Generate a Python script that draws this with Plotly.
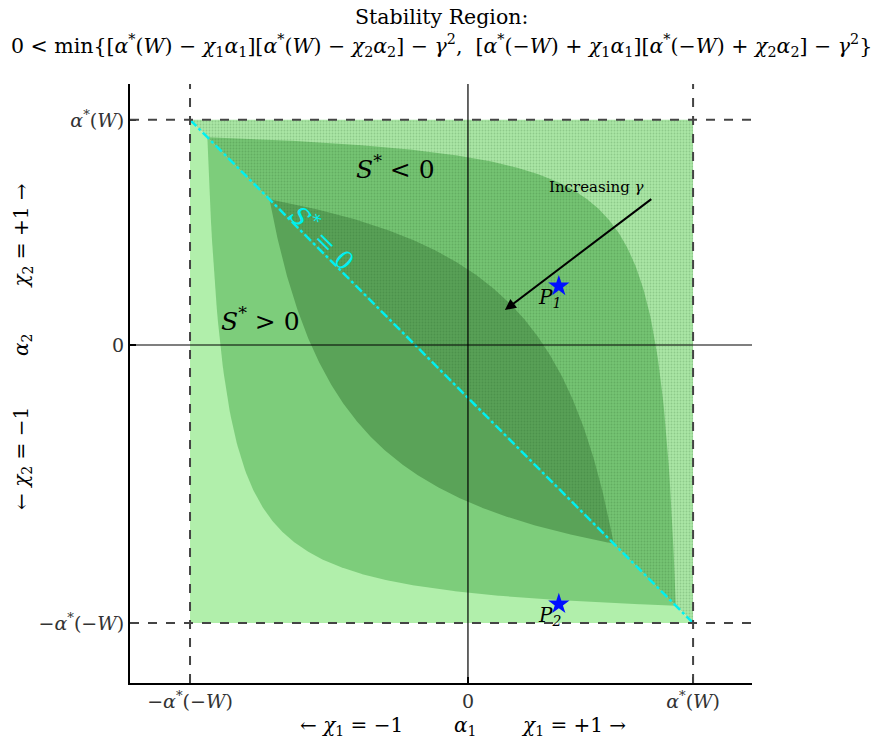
import numpy as np
import plotly.graph_objects as go

# ---- data ----
alpha_W = 0.81        # α*(W)
alpha_mW = 1.0        # α*(−W)
gamma_levels = [0.0, 0.33, 0.66]          # increasing γ
level_colors = ["#b1efab", "#7dcd7b", "#5aa358"]
level_colors_hatched = ["#aae6a5", "#74c372", "#58a056"]
point_x = [0.327, 0.327]
point_y = [0.212, -0.932]
point_names = ["P<sub>1</sub>", "P<sub>2</sub>"]
tick_vals_x = [-alpha_mW, 0.0, alpha_W]
tick_text_x = ["−<i>α</i><sup>*</sup>(−<i>W</i>)", "0", "<i>α</i><sup>*</sup>(<i>W</i>)"]
tick_vals_y = [-alpha_mW, 0.0, alpha_W]
tick_text_y = ["−<i>α</i><sup>*</sup>(−<i>W</i>)", "0", "<i>α</i><sup>*</sup>(<i>W</i>)"]
x_range = [-1.216, 1.022]
y_range = [-1.216, 0.939]
x_title_parts = ["← <i>χ</i><sub>1</sub> = −1", "<i>α</i><sub>1</sub>", "<i>χ</i><sub>1</sub> = +1 →"]
y_title_parts = ["← <i>χ</i><sub>2</sub> = −1", "<i>α</i><sub>2</sub>", "<i>χ</i><sub>2</sub> = +1 →"]
title_part_pos = [-0.42, -0.01, 0.38]

FONT = "DejaVu Serif"


def halves(A, B, g):
    """Return (upper, lower) polygons of the stable region for level g,
    split by the S*=0 diagonal x+y = A-B."""
    if g == 0:
        up = ([-B, A, A], [A, A, -B])
        lo = ([-B, -B, A], [A, -B, -B])
        return up, lo
    c = A - B
    disc = np.sqrt((A + B) ** 2 - 4 * g * g)
    xl, xr = (c - disc) / 2, (c + disc) / 2
    xs = np.linspace(xl, xr, 400)
    yu = A - g * g / (A - xs)
    yl = -B + g * g / (B + xs)
    return (list(xs), list(yu)), (list(xs), list(yl))


fig = go.Figure()
for g, col, hcol in zip(gamma_levels, level_colors, level_colors_hatched):
    up, lo = halves(alpha_W, alpha_mW, g)
    fig.add_trace(go.Scatter(x=lo[0], y=lo[1], fill="toself", fillcolor=col,
                             mode="lines", line=dict(width=0, color=col),
                             hoverinfo="skip", showlegend=False))
    fig.add_trace(go.Scatter(x=up[0], y=up[1], fill="toself", fillcolor=hcol,
                             fillpattern=dict(shape=".", bgcolor=hcol,
                                              fgcolor="rgba(30,90,30,0.40)",
                                              size=3, solidity=0.3),
                             mode="lines", line=dict(width=0, color=hcol),
                             hoverinfo="skip", showlegend=False))

# S* = 0 diagonal
fig.add_trace(go.Scatter(x=[-alpha_mW, alpha_W], y=[alpha_W, -alpha_mW],
                         mode="lines", line=dict(color="#00f0f0", width=2.5, dash="dashdot"),
                         hoverinfo="skip", showlegend=False))

# points
fig.add_trace(go.Scatter(x=point_x, y=point_y, mode="markers",
                         marker=dict(symbol="star", size=16, color="#0010ff",
                                     line=dict(width=0)),
                         hoverinfo="skip", showlegend=False))

shapes = []
dash_line = dict(color="#444444", width=2, dash="dash")
for v in (alpha_W, -alpha_mW):
    shapes.append(dict(type="line", xref="paper", x0=0, x1=1, yref="y", y0=v, y1=v,
                       line=dash_line, layer="above"))
    shapes.append(dict(type="line", yref="paper", y0=0, y1=1, xref="x", x0=v, x1=v,
                       line=dash_line, layer="above"))
shapes.append(dict(type="line", xref="paper", x0=0, x1=1, yref="y", y0=0, y1=0,
                   line=dict(color="black", width=1.2), layer="above"))
shapes.append(dict(type="line", yref="paper", y0=0, y1=1, xref="x", x0=0, x1=0,
                   line=dict(color="black", width=1.2), layer="above"))

ann = []
for px, py, name in zip(point_x, point_y, point_names):
    ann.append(dict(x=px, y=py, text="<i>" + name + "</i>", showarrow=False,
                    xanchor="right", yanchor="top", xshift=4, yshift=3,
                    font=dict(family=FONT, size=20, color="black")))
ann += [
    dict(x=-0.259, y=0.637, text="<i>S</i><sup>*</sup> < 0", showarrow=False,
         font=dict(family=FONT, size=25, color="black")),
    dict(x=-0.748, y=0.09, text="<i>S</i><sup>*</sup> > 0", showarrow=False,
         font=dict(family=FONT, size=25, color="black")),
    dict(x=-0.522, y=0.385, text="<i>S</i><sup>*</sup> = 0", showarrow=False, textangle=45,
         font=dict(family=FONT, size=25, color="#00f0f0")),
    dict(x=0.464, y=0.568, text="Increasing <i>γ</i>", showarrow=False,
         font=dict(family=FONT, size=15, color="black")),
    dict(x=0.133, y=0.126, ax=0.665, ay=0.529, axref="x", ayref="y", xref="x", yref="y",
         text="", showarrow=True, arrowhead=2, arrowsize=1.1, arrowwidth=2, arrowcolor="black"),
    # title
    dict(xref="paper", yref="paper", x=0.5, y=1, yshift=67, yanchor="middle",
         text="Stability Region:", showarrow=False,
         font=dict(family=FONT, size=20.5, color="black")),
    dict(xref="paper", yref="paper", x=0.5, y=1, yshift=39, yanchor="middle",
         text="0 < min{[<i>α</i><sup>*</sup>(<i>W</i>) − <i>χ</i><sub>1</sub><i>α</i><sub>1</sub>]"
              "[<i>α</i><sup>*</sup>(<i>W</i>) − <i>χ</i><sub>2</sub><i>α</i><sub>2</sub>] − <i>γ</i><sup>2</sup>,  "
              "[<i>α</i><sup>*</sup>(−<i>W</i>) + <i>χ</i><sub>1</sub><i>α</i><sub>1</sub>]"
              "[<i>α</i><sup>*</sup>(−<i>W</i>) + <i>χ</i><sub>2</sub><i>α</i><sub>2</sub>] − <i>γ</i><sup>2</sup>}",
         showarrow=False, font=dict(family=FONT, size=20.5, color="black")),
]
# axis titles (three pieces each)
for txt, pos in zip(x_title_parts, title_part_pos):
    ann.append(dict(xref="x", yref="paper", x=pos, y=0, yshift=-43, yanchor="middle",
                    text=txt, showarrow=False, font=dict(family=FONT, size=20, color="black")))
for txt, pos in zip(y_title_parts, title_part_pos):
    ann.append(dict(xref="paper", yref="y", x=0, xshift=-108, y=pos + 0.01, xanchor="center",
                    yanchor="middle", text=txt, textangle=-90, showarrow=False,
                    font=dict(family=FONT, size=20, color="black")))

axis_common = dict(showgrid=False, zeroline=False, showline=True, linecolor="black",
                   linewidth=2, ticks="inside", ticklen=6, tickwidth=1.5, tickcolor="black",
                   mirror=False, tickfont=dict(family=FONT, size=19, color="#333333"))

fig.update_layout(
    width=882, height=740,
    margin=dict(l=130, r=130, t=84, b=57),
    plot_bgcolor="white", paper_bgcolor="white",
    xaxis=dict(range=x_range, tickvals=tick_vals_x, ticktext=tick_text_x, **axis_common),
    yaxis=dict(range=y_range, tickvals=tick_vals_y, ticktext=tick_text_y, **axis_common),
    shapes=shapes, annotations=ann, showlegend=False,
)

fig.write_html("out.html", config={"displayModeBar": False},
               post_script="document.body.style.margin='0';document.body.style.overflow='hidden';")
